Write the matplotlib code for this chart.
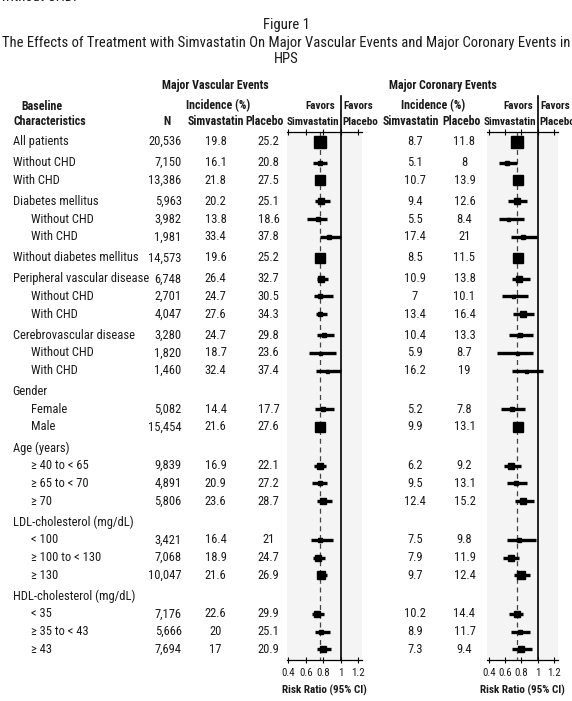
import matplotlib
matplotlib.use('Agg')
import matplotlib.pyplot as plt
import numpy as np

plt.rcParams['font.family'] = ['Roboto Condensed', 'DejaVu Sans']

# ---------------- data ----------------
labels = ["All patients", "Without CHD", "With CHD", "Diabetes mellitus", "Without CHD", "With CHD",
          "Without diabetes mellitus", "Peripheral vascular disease", "Without CHD", "With CHD",
          "Cerebrovascular disease", "Without CHD", "With CHD", "Gender", "Female", "Male",
          "Age (years)", "\u2265 40 to < 65", "\u2265 65 to < 70", "\u2265 70",
          "LDL-cholesterol (mg/dL)", "< 100", "\u2265 100 to < 130", "\u2265 130",
          "HDL-cholesterol (mg/dL)", "< 35", "\u2265 35 to < 43", "\u2265 43"]
levels = [0, 0, 0, 0, 1, 1, 0, 0, 1, 1, 0, 1, 1, 0, 1, 1, 0, 1, 1, 1, 0, 1, 1, 1, 0, 1, 1, 1]
groups = [0, 1, 1, 2, 2, 2, 3, 4, 4, 4, 5, 5, 5, 6, 6, 6, 7, 7, 7, 7, 8, 8, 8, 8, 9, 9, 9, 9]
n_pts = [20536, 7150, 13386, 5963, 3982, 1981, 14573, 6748, 2701, 4047, 3280, 1820, 1460, None,
         5082, 15454, None, 9839, 4891, 5806, None, 3421, 7068, 10047, None, 7176, 5666, 7694]

mve_simva = [19.8, 16.1, 21.8, 20.2, 13.8, 33.4, 19.6, 26.4, 24.7, 27.6, 24.7, 18.7, 32.4, None,
             14.4, 21.6, None, 16.9, 20.9, 23.6, None, 16.4, 18.9, 21.6, None, 22.6, 20, 17]
mve_placebo = [25.2, 20.8, 27.5, 25.1, 18.6, 37.8, 25.2, 32.7, 30.5, 34.3, 29.8, 23.6, 37.4, None,
               17.7, 27.6, None, 22.1, 27.2, 28.7, None, 21, 24.7, 26.9, None, 29.9, 25.1, 20.9]
mve_rr = [0.765, 0.76, 0.77, 0.78, 0.745, 0.87, 0.77, 0.78, 0.77, 0.77, 0.81, 0.77, 0.85, None,
          0.80, 0.765, None, 0.765, 0.76, 0.80, None, 0.765, 0.745, 0.78, None, 0.73, 0.78, 0.80]
mve_lo = [0.72, 0.68, 0.72, 0.71, 0.62, 0.76, 0.73, 0.73, 0.69, 0.72, 0.73, 0.64, 0.72, None,
          0.71, 0.72, None, 0.70, 0.67, 0.73, None, 0.66, 0.68, 0.73, None, 0.67, 0.71, 0.73]
mve_hi = [0.81, 0.85, 0.82, 0.88, 0.84, 1.00, 0.82, 0.86, 0.91, 0.85, 0.93, 0.95, 1.00, None,
          0.93, 0.81, None, 0.83, 0.84, 0.90, None, 0.91, 0.82, 0.85, None, 0.81, 0.88, 0.89]

mce_simva = [8.7, 5.1, 10.7, 9.4, 5.5, 17.4, 8.5, 10.9, 7, 13.4, 10.4, 5.9, 16.2, None,
             5.2, 9.9, None, 6.2, 9.5, 12.4, None, 7.5, 7.9, 9.7, None, 10.2, 8.9, 7.3]
mce_placebo = [11.8, 8, 13.9, 12.6, 8.4, 21, 11.5, 13.8, 10.1, 16.4, 13.3, 8.7, 19, None,
               7.8, 13.1, None, 9.2, 13.1, 15.2, None, 9.8, 11.9, 12.4, None, 14.4, 11.7, 9.4]
mce_rr = [0.745, 0.62, 0.76, 0.74, 0.64, 0.82, 0.76, 0.775, 0.70, 0.82, 0.78, 0.75, 0.86, None,
          0.685, 0.76, None, 0.67, 0.73, 0.815, None, 0.775, 0.67, 0.80, None, 0.74, 0.78, 0.79]
mce_lo = [0.70, 0.525, 0.70, 0.64, 0.53, 0.67, 0.70, 0.69, 0.56, 0.70, 0.65, 0.50, 0.68, None,
          0.55, 0.71, None, 0.59, 0.62, 0.72, None, 0.62, 0.58, 0.71, None, 0.65, 0.67, 0.68]
mce_hi = [0.80, 0.74, 0.82, 0.865, 0.83, 0.99, 0.82, 0.905, 0.885, 0.95, 0.94, 0.94, 1.07, None,
          0.845, 0.81, None, 0.79, 0.865, 0.95, None, 0.975, 0.775, 0.90, None, 0.82, 0.91, 0.93]

tick_vals = [0.4, 0.6, 0.8, 1.0, 1.2]
tick_labels = ["0.4", "0.6", "0.8", "1", "1.2"]

# ---------------- layout ----------------
W, H = 572, 701
fig = plt.figure(figsize=(W / 100, H / 100), dpi=100)
ax0 = fig.add_axes([0, 0, 1, 1])
ax0.set_xlim(0, W)
ax0.set_ylim(H, 0)
ax0.axis('off')

FS = 9.0
HFS = 8.6
TFS = 10.5
TXT = '#1a1a1a'

ys = [141.7]
for i in range(1, len(labels)):
    ys.append(ys[-1] + (21.0 if groups[i] != groups[i - 1] else 17.7))

# titles
ax0.text(1, -3, "without CHD.", fontsize=TFS, va='center', ha='left', color=TXT)
ax0.text(286, 25, "Figure 1", fontsize=TFS, ha='center', va='center', color=TXT)
ax0.text(286, 42.5, "The Effects of Treatment with Simvastatin On Major Vascular Events and Major Coronary Events in",
         fontsize=TFS, ha='center', va='center', color=TXT)
ax0.text(286, 59, "HPS", fontsize=TFS, ha='center', va='center', color=TXT)

hb = dict(fontsize=HFS, fontweight='bold', va='center', color=TXT)
ax0.text(215, 86, "Major Vascular Events", ha='center', **hb)
ax0.text(443, 86, "Major Coronary Events", ha='center', **hb)
ax0.text(21, 106, "Baseline", ha='left', **hb)
ax0.text(14, 121.7, "Characteristics", ha='left', **hb)
ax0.text(167, 121.7, "N", ha='center', **hb)
ax0.text(218, 106, "Incidence (%)", ha='center', **hb)
ax0.text(216, 121.7, "Simvastatin", ha='center', **hb)
ax0.text(265, 121.7, "Placebo", ha='center', **hb)
ax0.text(433, 106, "Incidence (%)", ha='center', **hb)
ax0.text(411, 121.7, "Simvastatin", ha='center', **hb)
ax0.text(462, 121.7, "Placebo", ha='center', **hb)

# forest header
fb = dict(hb)
fb['fontsize'] = 8.0
for xr in (340.5, 537.7):
    ax0.text(xr - 5, 106, "Favors", ha='right', **fb)
    ax0.text(xr - 1.5, 121.7, "Simvastatin", ha='right', **fb)
    ax0.text(xr + 3, 106, "Favors", ha='left', **fb)
    ax0.text(xr + 1.5, 121.7, "Placebo", ha='left', **fb)

# table body
fmt = lambda v: "%g" % v
for i, lab in enumerate(labels):
    y = ys[i]
    ax0.text(12.7 + 18 * levels[i], y, lab, fontsize=FS, ha='left', va='center', color=TXT)
    if n_pts[i] is None:
        continue
    ax0.text(181.7, y, "{:,}".format(n_pts[i]), fontsize=FS, ha='right', va='center', color=TXT)
    ax0.text(215.5, y, fmt(mve_simva[i]), fontsize=FS, ha='center', va='center', color=TXT)
    ax0.text(268.5, y, fmt(mve_placebo[i]), fontsize=FS, ha='center', va='center', color=TXT)
    ax0.text(415, y, fmt(mce_simva[i]), fontsize=FS, ha='center', va='center', color=TXT)
    ax0.text(464.5, y, fmt(mce_placebo[i]), fontsize=FS, ha='center', va='center', color=TXT)


def forest(xpx0, xpx1, one_px, ppu, rr, lo, hi, simva, placebo):
    top, bot = 131.7, 660.0
    ax = fig.add_axes([xpx0 / W, 1 - bot / H, (xpx1 - xpx0) / W, (bot - top) / H])
    ax.set_xlim(1 - (one_px - xpx0) / ppu, 1 + (xpx1 - one_px) / ppu)
    ax.set_ylim(bot, top)
    ax.set_facecolor('#f4f4f4')
    for sp in ('left', 'right'):
        ax.spines[sp].set_visible(False)
    for sp in ('top', 'bottom'):
        ax.spines[sp].set_linewidth(0.9)
    ax.set_yticks([])
    ax.set_xticks(tick_vals)
    ax.set_xticklabels(tick_labels)
    ax.tick_params(axis='x', top=True, direction='inout', length=5, width=0.8,
                   labelsize=7.8, pad=3, labelcolor=TXT)
    # reference line at 1 (reaching up into the header)
    ax.plot([1, 1], [bot, 96], color='black', lw=1.2, clip_on=False, zorder=4)
    # overall estimate dashed line
    ax.plot([rr[0], rr[0]], [top, bot], color='#444444', lw=0.9, ls=(0, (4, 3)), zorder=2)
    ev = np.array([n_pts[i] * (simva[i] + placebo[i]) / 200 if n_pts[i] else 0 for i in range(len(rr))])
    for i in range(len(rr)):
        if rr[i] is None:
            continue
        ax.plot([lo[i], hi[i]], [ys[i], ys[i]], color='black', lw=2.4, solid_capstyle='butt',
                zorder=3, clip_on=False)
        size_px = max(3.0, 12.0 * (ev[i] / ev.max()) ** 0.7)
        ax.plot([rr[i]], [ys[i]], marker='s', ms=size_px * 0.72, color='black', mec='black',
                zorder=5, clip_on=False)
    return ax


forest(286.7, 361.7, 340.5, 87.0, mve_rr, mve_lo, mve_hi, mve_simva, mve_placebo)
forest(486.7, 558.3, 537.7, 81.5, mce_rr, mce_lo, mce_hi, mce_simva, mce_placebo)

ax0.text(324, 690, "Risk Ratio (95% CI)", ha='center', **fb)
ax0.text(522.5, 690, "Risk Ratio (95% CI)", ha='center', **fb)

fig.savefig("out.png", dpi=100)
